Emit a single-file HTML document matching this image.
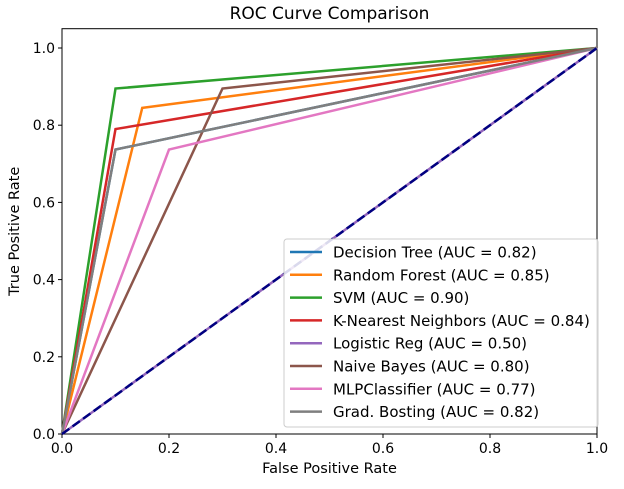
<!DOCTYPE html>
<html><head><meta charset="utf-8"><style>
body{margin:0;background:#fff;font-family:"Liberation Sans","DejaVu Sans",sans-serif}
svg text{font-family:"DejaVu Sans","Liberation Sans",sans-serif}
</style></head><body>
<svg id="c" width="624" height="484" viewBox="0 0 624 484"></svg>
<script>
const names=["Decision Tree","Random Forest","SVM","K-Nearest Neighbors","Logistic Reg","Naive Bayes","MLPClassifier","Grad. Bosting"];
const aucs=["0.82","0.85","0.90","0.84","0.50","0.80","0.77","0.82"];
const fprs=[0.1,0.15,0.1,0.1,0.5,0.3,0.2,0.1];
const tprs=[0.737,0.845,0.895,0.79,0.5,0.895,0.737,0.737];
const colors=["#1f77b4","#ff7f0e","#2ca02c","#d62728","#9467bd","#8c564b","#e377c2","#7f7f7f"];
const ticks=[0,0.2,0.4,0.6,0.8,1.0];
const tickLabels=["0.0","0.2","0.4","0.6","0.8","1.0"];
const X0=62,X1=597,Y0=434,Y1=48;
const sx=v=>X0+(X1-X0)*v, sy=v=>Y0-(Y0-Y1)*v;
const svg=document.getElementById('c');const NS="http://www.w3.org/2000/svg";
function mk(t,a,p){const e=document.createElementNS(NS,t);for(const k in a)e.setAttribute(k,a[k]);(p||svg).appendChild(e);return e;}
const axTop=sy(1.05);
const frame=mk('rect',{x:X0,y:axTop,width:X1-X0,height:Y0-axTop,fill:'none',stroke:'#000','stroke-width':1});


const ti=mk('text',{x:(X0+X1)/2,y:19,'text-anchor':'middle','font-size':17});ti.textContent="ROC Curve Comparison";


const xt=mk('text',{x:(X0+X1)/2,y:473,'text-anchor':'middle','font-size':14.5});xt.textContent="False Positive Rate";


const yt=mk('text',{x:0,y:0,'text-anchor':'middle','font-size':14.5,transform:`translate(19,${(axTop+Y0)/2}) rotate(-90)`});yt.textContent="True Positive Rate";


ticks.forEach((t,i)=>{
 mk('line',{x1:sx(t),x2:sx(t),y1:Y0,y2:Y0+4,stroke:'#000'});
 const a=mk('text',{x:sx(t),y:Y0+19,'text-anchor':'middle','font-size':14});a.textContent=tickLabels[i];
 
 
 mk('line',{x1:X0-4,x2:X0,y1:sy(t),y2:sy(t),stroke:'#000'});
 const b=mk('text',{x:X0-7,y:sy(t)+5,'text-anchor':'end','font-size':14});b.textContent=tickLabels[i];
 
 
});
names.forEach((n,i)=>{
 const pts=i===4?[[0,0],[1,1]]:[[0,0],[fprs[i],tprs[i]],[1,1]];
 const p=mk('polyline',{points:pts.map(q=>sx(q[0])+','+sy(q[1])).join(' '),fill:'none',stroke:colors[i],'stroke-width':2.5});
 
 
});
const d=mk('line',{x1:sx(0),y1:sy(0),x2:sx(1),y2:sy(1),stroke:'#000080','stroke-width':2.5,'stroke-dasharray':'9,4'});


const lg=mk('g',{});


mk('rect',{x:284,y:239,width:314,height:188,rx:3,fill:'#fff','fill-opacity':0.85,stroke:'#ccc'},lg);
names.forEach((n,i)=>{
 const y=252+i*22.8;
 mk('line',{x1:290,x2:322,y1:y,y2:y,stroke:colors[i],'stroke-width':2.5},lg);
 const t=mk('text',{x:333,y:y+5.5,'font-size':15},lg);t.textContent=`${n} (AUC = ${aucs[i]})`;
 
 
});
</script>
</body></html>
